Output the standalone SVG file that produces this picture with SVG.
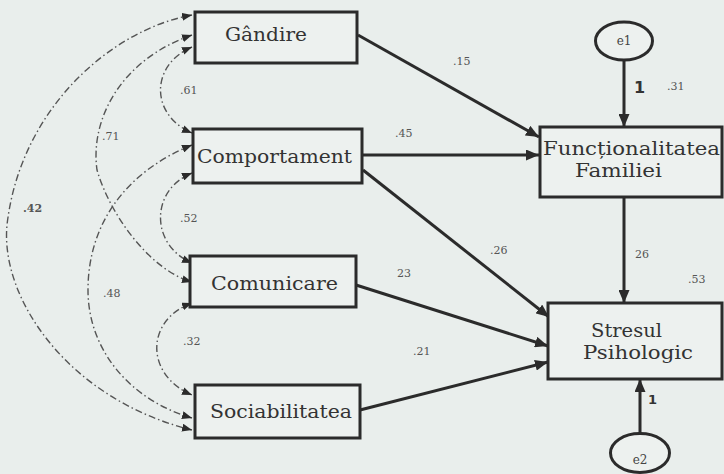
<svg xmlns="http://www.w3.org/2000/svg" width="724" height="474" viewBox="0 0 724 474">
<style>
.bg{fill:#e9eeec}
.box{fill:#edf1ef;stroke:#2b2b2b;stroke-width:3}
.ell{fill:#edf1ef;stroke:#2b2b2b;stroke-width:3}
.t{font-family:"DejaVu Serif",serif;font-size:19px;fill:#333}
.e{font-family:"DejaVu Serif",serif;font-size:12px;fill:#444}
.lab{font-family:"DejaVu Serif",serif;font-size:11px;fill:#555}
.one{font-family:"DejaVu Sans",sans-serif;font-weight:bold;fill:#333}
.path{fill:none;stroke:#2b2b2b;stroke-width:3}
.cov{fill:none;stroke:#555;stroke-width:1.4;stroke-dasharray:7 3 1.5 3}
</style>
<defs>
<marker id="ar" markerUnits="userSpaceOnUse" markerWidth="13" markerHeight="11" refX="13" refY="5.5" orient="auto">
<path d="M0,0 L13,5.5 L0,11 z" fill="#2b2b2b"/>
</marker>
<marker id="sa" markerUnits="userSpaceOnUse" markerWidth="10" markerHeight="8" refX="10" refY="4" orient="auto-start-reverse">
<path d="M0,0 L10,4 L0,8 z" fill="#2b2b2b"/>
</marker>
</defs>
<rect class="bg" x="0" y="0" width="724" height="474"/>

<g id="connectors">
<path class="path" d="M358,35 L539,137" marker-end="url(#ar)"/>
<path class="path" d="M362,155 L539,155" marker-end="url(#ar)"/>
<path class="path" d="M363,170 L549,317" marker-end="url(#ar)"/>
<path class="path" d="M356,285 L548,346" marker-end="url(#ar)"/>
<path class="path" d="M360,410 L548,362" marker-end="url(#ar)"/>
<path class="path" d="M624,197 L624,303" marker-end="url(#ar)"/>
<path class="path" d="M624,60 L624,127" marker-end="url(#ar)"/>
<path class="path" d="M640,433 L640,379" marker-end="url(#ar)"/>

<path class="cov" d="M192,15 C110,30 20,110 7,225 C0,300 70,400 192,430" marker-start="url(#sa)" marker-end="url(#sa)"/>
<path class="cov" d="M192,35 C120,60 90,120 97,170 C110,215 150,270 192,282" marker-start="url(#sa)" marker-end="url(#sa)"/>
<path class="cov" d="M192,145 C130,170 88,220 88,290 C88,350 130,400 192,418" marker-start="url(#sa)" marker-end="url(#sa)"/>
<path class="cov" d="M192,47 C150,65 150,115 192,133" marker-start="url(#sa)" marker-end="url(#sa)"/>
<path class="cov" d="M192,173 C150,190 150,245 192,263" marker-start="url(#sa)" marker-end="url(#sa)"/>
<path class="cov" d="M192,303 C145,320 145,375 192,395" marker-start="url(#sa)" marker-end="url(#sa)"/>

<text class="lab" x="453" y="65">.15</text>
<text class="lab" x="395" y="137">.45</text>
<text class="lab" x="490" y="254">.26</text>
<text class="lab" x="397" y="277">23</text>
<text class="lab" x="413" y="355">.21</text>
<text class="lab" x="635" y="258">26</text>
<text class="lab" x="688" y="283">.53</text>
<text class="lab" x="667" y="90">.31</text>
<text class="one" x="634" y="93" font-size="16">1</text>
<text class="one" x="648" y="404" font-size="13">1</text>
<text class="lab" x="180" y="94">.61</text>
<text class="lab" x="102" y="140">.71</text>
<text class="lab" x="23" y="212" font-weight="bold">.42</text>
<text class="lab" x="180" y="222">.52</text>
<text class="lab" x="103" y="297">.48</text>
<text class="lab" x="183" y="345">.32</text>
</g>

<g id="gandire">
<rect class="box" x="195" y="12" width="162" height="51"/>
<text class="t" x="225" y="41" textLength="82" lengthAdjust="spacingAndGlyphs">Gândire</text>
</g>
<g id="comportament">
<rect class="box" x="193" y="129" width="169" height="54"/>
<text class="t" x="197" y="163" textLength="155" lengthAdjust="spacingAndGlyphs">Comportament</text>
</g>
<g id="comunicare">
<rect class="box" x="190" y="256" width="166" height="51"/>
<text class="t" x="211" y="290" textLength="127" lengthAdjust="spacingAndGlyphs">Comunicare</text>
</g>
<g id="sociabilitatea">
<rect class="box" x="195" y="385" width="165" height="53"/>
<text class="t" x="210" y="418" textLength="142" lengthAdjust="spacingAndGlyphs">Sociabilitatea</text>
</g>
<g id="functionalitatea">
<rect class="box" x="540" y="127" width="182" height="70"/>
<text class="t" x="543" y="155" font-size="17" textLength="177" lengthAdjust="spacingAndGlyphs">Funcționalitatea</text>
<text class="t" x="575" y="177" font-size="17" textLength="87" lengthAdjust="spacingAndGlyphs">Familiei</text>
</g>
<g id="stresul">
<rect class="box" x="548" y="303" width="174" height="76"/>
<text class="t" x="591" y="337" font-size="17" textLength="71" lengthAdjust="spacingAndGlyphs">Stresul</text>
<text class="t" x="583" y="359" font-size="17" textLength="110" lengthAdjust="spacingAndGlyphs">Psihologic</text>
</g>
<g id="e1">
<ellipse class="ell" cx="624" cy="41" rx="28.5" ry="19"/>
<text class="e" x="624" y="45" text-anchor="middle">e1</text>
</g>
<g id="e2">
<ellipse class="ell" cx="640" cy="453" rx="29.5" ry="19.5"/>
<text class="e" x="640" y="464" text-anchor="middle">e2</text>
</g>
</svg>
